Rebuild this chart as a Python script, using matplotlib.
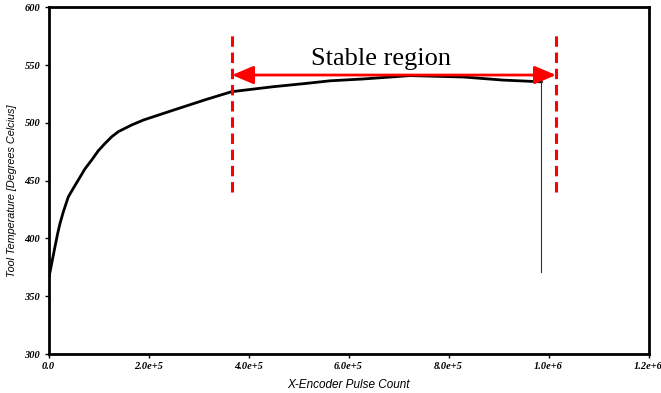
import matplotlib
matplotlib.use("Agg")
import matplotlib.pyplot as plt
from matplotlib.font_manager import FontProperties

# tool temperature trace
pulse_count = [0, 3000, 6400, 13000, 18400, 23000, 29600, 39600, 49600, 59600,
               73000, 86400, 99600, 113000, 126400, 139600, 166400, 190000,
               249600, 316400, 366400, 449600, 516400, 563000, 629600, 723000,
               829600, 909600, 983000, 985600]
tool_temp = [365.6, 371.0, 378.5, 393.0, 404.5, 413.0, 423.0, 436.0, 443.4,
             450.6, 460.3, 467.9, 475.9, 482.2, 488.0, 492.4, 498.2, 502.5,
             511.0, 520.4, 527.0, 531.3, 534.2, 536.4, 538.0, 540.9, 539.7,
             537.0, 535.6, 535.6]
# sudden drop at the end of the run
drop_x = [985600, 985600]
drop_temp = [535.6, 371.0]

# stable region markers
stable_start = 367000
stable_end = 1015000
marker_bottom, marker_top = 440, 576
arrow_level = 541.4

x_ticks = [0, 2e5, 4e5, 6e5, 8e5, 1e6, 1.2e6]
x_tick_labels = ["0.0", "2.0e+5", "4.0e+5", "6.0e+5", "8.0e+5", "1.0e+6", "1.2e+6"]
y_ticks = [300, 350, 400, 450, 500, 550, 600]

fig = plt.figure(figsize=(6.61, 3.93), dpi=100)
ax = fig.add_axes([0.0734, 0.0992, 0.9077, 0.8822])

ax.plot(pulse_count, tool_temp, color="black", lw=2.0, solid_joinstyle="round")
ax.plot(drop_x, drop_temp, color="#333333", lw=0.8)

for xm in (stable_start, stable_end):
    ax.plot([xm, xm], [marker_bottom, marker_top], color="red", lw=2.2,
            dashes=(3.4, 1.9))

ax.annotate("", xy=(stable_end, arrow_level), xytext=(stable_start, arrow_level),
            arrowprops=dict(arrowstyle="<|-|>,head_length=1.3,head_width=0.55",
                            color="red", lw=2, shrinkA=0, shrinkB=0))
ax.text(665000, 546, "Stable region", ha="center", va="bottom",
        family="Liberation Serif", fontsize=19)

ax.set_xlim(0, 1.2e6)
ax.set_ylim(300, 600)
ax.set_xticks(x_ticks)
ax.set_xticklabels(x_tick_labels)
ax.set_yticks(y_ticks)

tick_font = FontProperties(family="Liberation Serif", weight="bold",
                           style="italic", size=7.5)
for lab in ax.get_xticklabels() + ax.get_yticklabels():
    lab.set_fontproperties(tick_font)

ax.tick_params(direction="out", length=3, width=1, pad=3)
for sp in ax.spines.values():
    sp.set_linewidth(2)

ax.set_xlabel("X-Encoder Pulse Count", family="Liberation Sans", style="italic",
              fontsize=8.5)
ax.set_ylabel("Tool Temperature [Degrees Celcius]", family="Liberation Sans",
              style="italic", fontsize=7.8)
ax.xaxis.set_label_coords(0.5, -0.089)
ax.yaxis.set_label_coords(-0.061, 0.47)
ax.xaxis.label.set_va("center")
ax.yaxis.label.set_va("center")

fig.savefig("out.png", dpi=100)
